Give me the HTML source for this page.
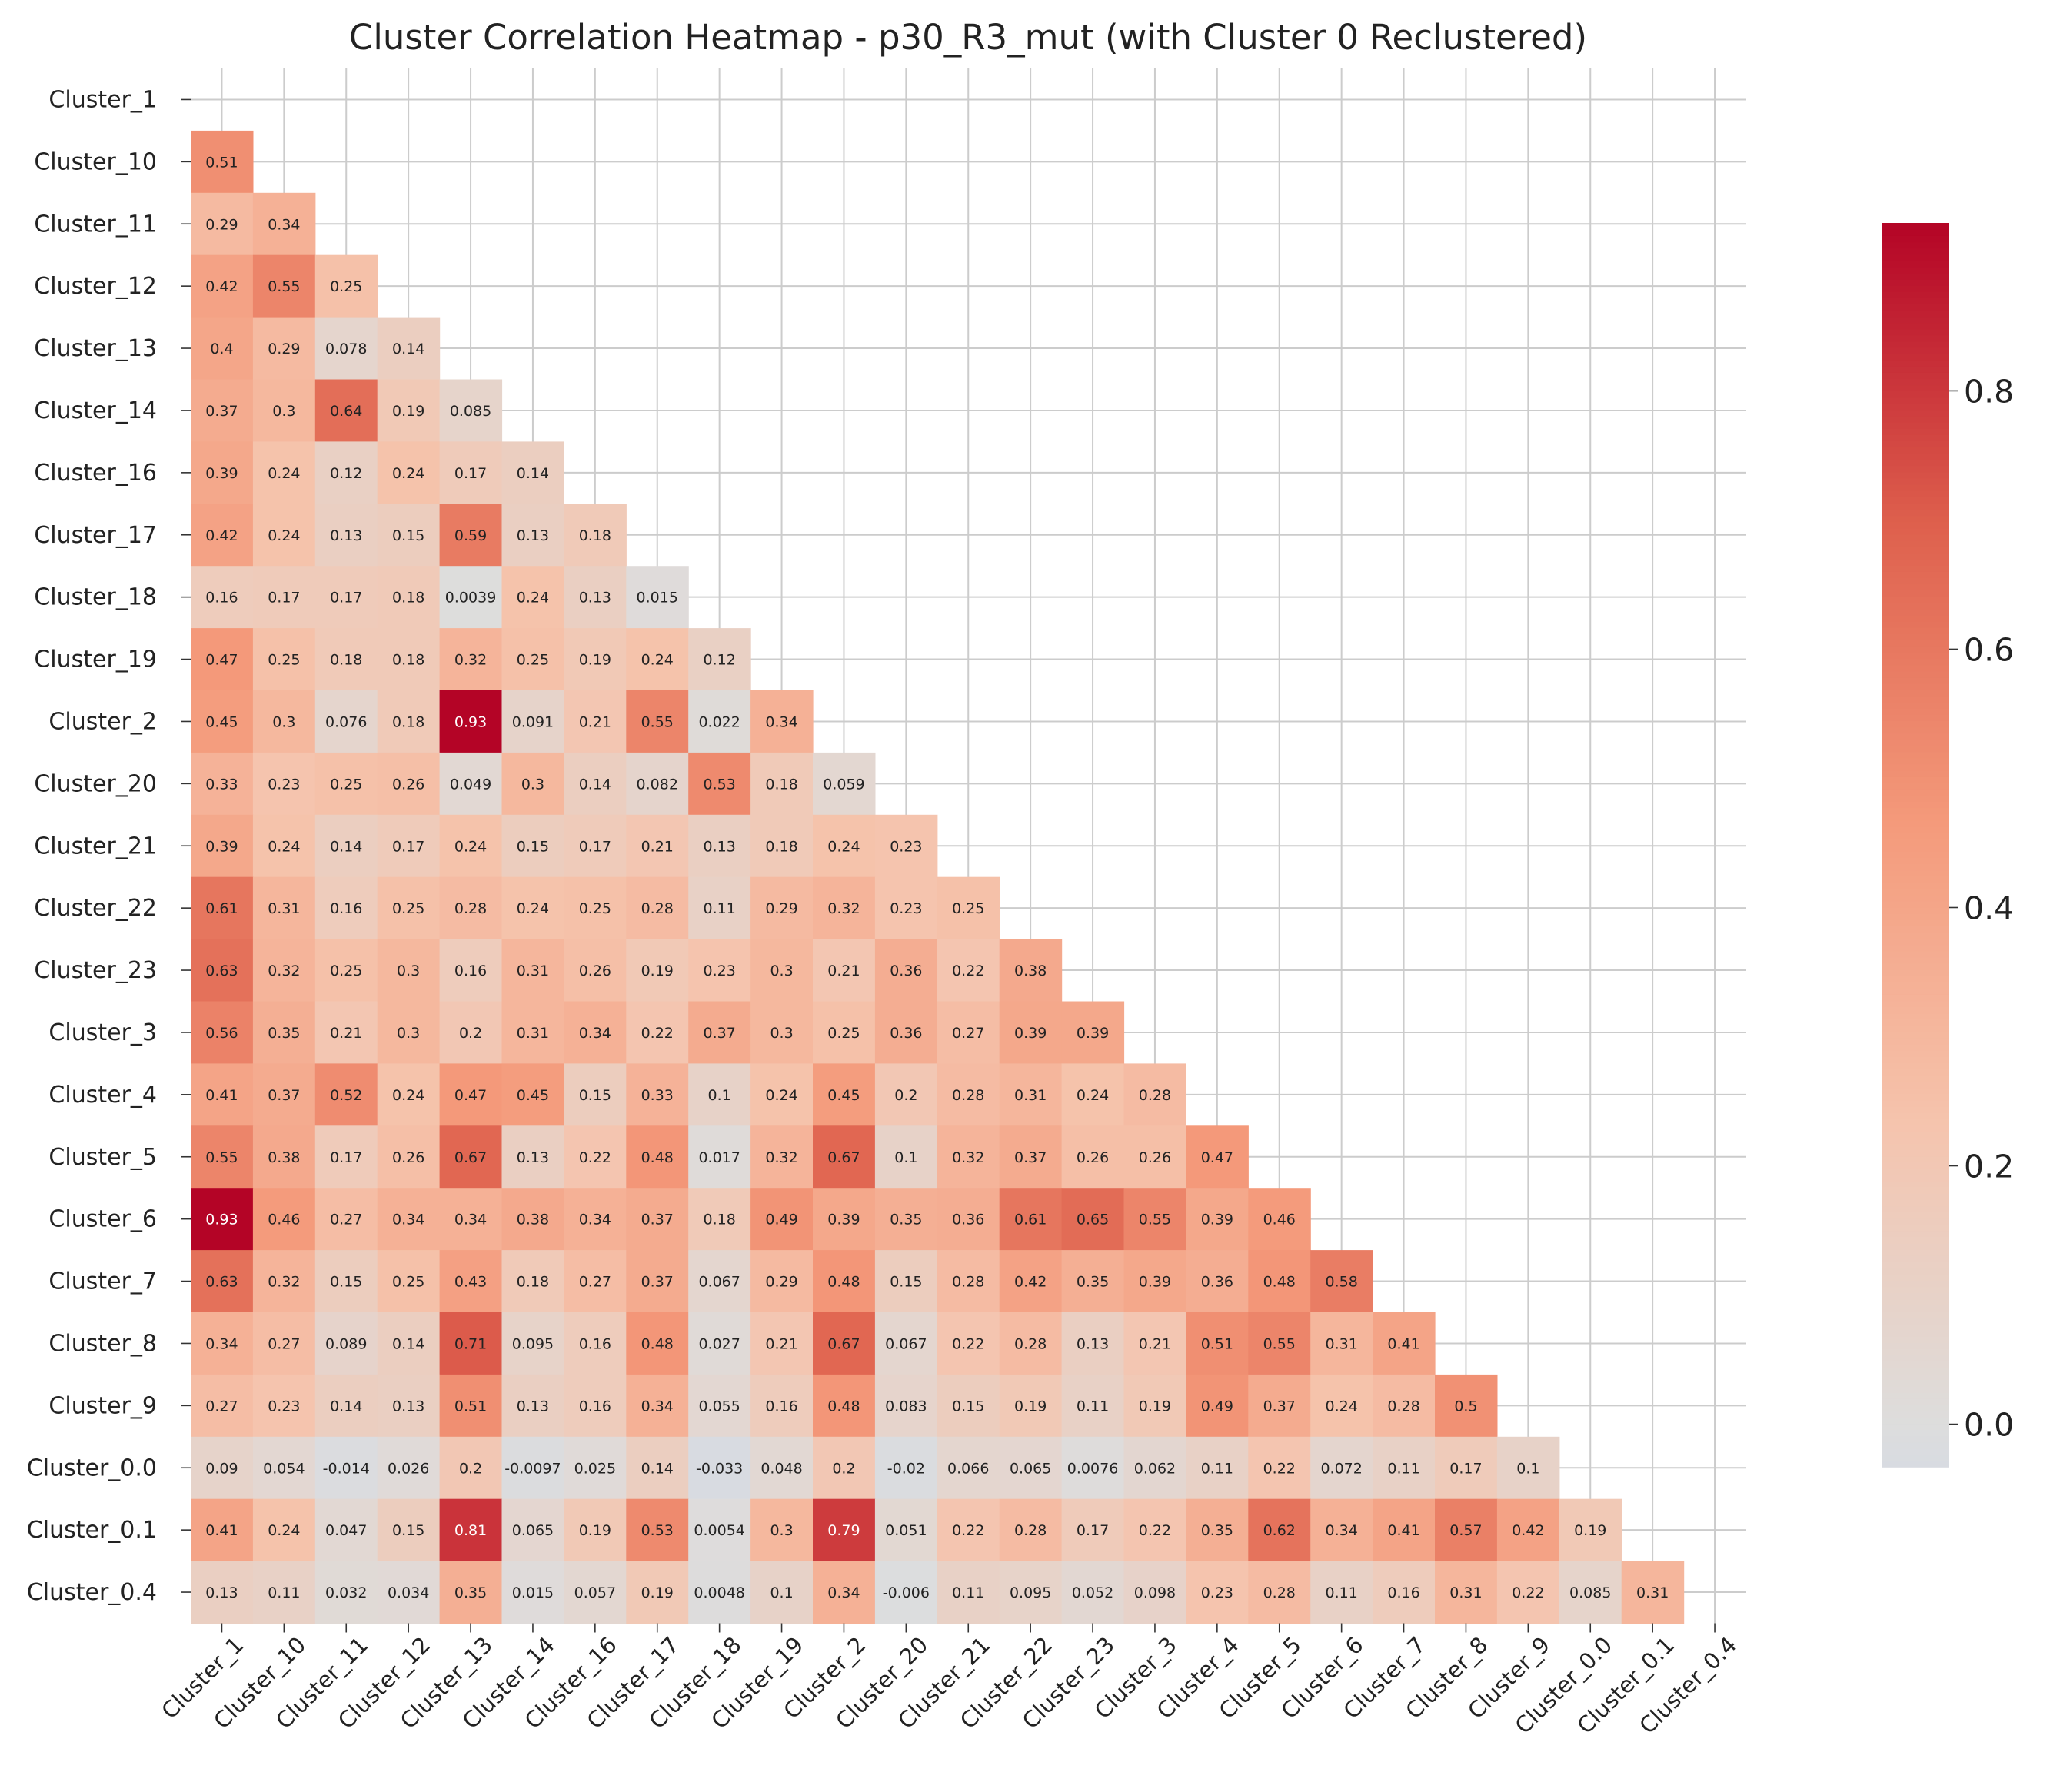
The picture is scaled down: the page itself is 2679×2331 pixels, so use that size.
<!DOCTYPE html>
<html><head><meta charset="utf-8"><style>
body{margin:0;background:#fff}
svg{display:block;font-family:"DejaVu Sans","Liberation Sans",sans-serif}
</style></head><body>
<svg id="chart" width="2679" height="2331" viewBox="0 0 2679 2331">
<text x="1259" y="64" text-anchor="middle" font-size="45" fill="#222">Cluster Correlation Heatmap - p30_R3_mut (with Cluster 0 Reclustered)</text>
<g id="grid"></g><g id="cells"></g><g id="labels"></g><g id="cbar"></g>
</svg>
<script>
const categories=["Cluster_1","Cluster_10","Cluster_11","Cluster_12","Cluster_13","Cluster_14","Cluster_16","Cluster_17","Cluster_18","Cluster_19","Cluster_2","Cluster_20","Cluster_21","Cluster_22","Cluster_23","Cluster_3","Cluster_4","Cluster_5","Cluster_6","Cluster_7","Cluster_8","Cluster_9","Cluster_0.0","Cluster_0.1","Cluster_0.4"];
const rowLabels=["0.51","0.29 0.34","0.42 0.55 0.25","0.4 0.29 0.078 0.14","0.37 0.3 0.64 0.19 0.085","0.39 0.24 0.12 0.24 0.17 0.14","0.42 0.24 0.13 0.15 0.59 0.13 0.18","0.16 0.17 0.17 0.18 0.0039 0.24 0.13 0.015","0.47 0.25 0.18 0.18 0.32 0.25 0.19 0.24 0.12","0.45 0.3 0.076 0.18 0.93 0.091 0.21 0.55 0.022 0.34","0.33 0.23 0.25 0.26 0.049 0.3 0.14 0.082 0.53 0.18 0.059","0.39 0.24 0.14 0.17 0.24 0.15 0.17 0.21 0.13 0.18 0.24 0.23","0.61 0.31 0.16 0.25 0.28 0.24 0.25 0.28 0.11 0.29 0.32 0.23 0.25","0.63 0.32 0.25 0.3 0.16 0.31 0.26 0.19 0.23 0.3 0.21 0.36 0.22 0.38","0.56 0.35 0.21 0.3 0.2 0.31 0.34 0.22 0.37 0.3 0.25 0.36 0.27 0.39 0.39","0.41 0.37 0.52 0.24 0.47 0.45 0.15 0.33 0.1 0.24 0.45 0.2 0.28 0.31 0.24 0.28","0.55 0.38 0.17 0.26 0.67 0.13 0.22 0.48 0.017 0.32 0.67 0.1 0.32 0.37 0.26 0.26 0.47","0.93 0.46 0.27 0.34 0.34 0.38 0.34 0.37 0.18 0.49 0.39 0.35 0.36 0.61 0.65 0.55 0.39 0.46","0.63 0.32 0.15 0.25 0.43 0.18 0.27 0.37 0.067 0.29 0.48 0.15 0.28 0.42 0.35 0.39 0.36 0.48 0.58","0.34 0.27 0.089 0.14 0.71 0.095 0.16 0.48 0.027 0.21 0.67 0.067 0.22 0.28 0.13 0.21 0.51 0.55 0.31 0.41","0.27 0.23 0.14 0.13 0.51 0.13 0.16 0.34 0.055 0.16 0.48 0.083 0.15 0.19 0.11 0.19 0.49 0.37 0.24 0.28 0.5","0.09 0.054 -0.014 0.026 0.2 -0.0097 0.025 0.14 -0.033 0.048 0.2 -0.02 0.066 0.065 0.0076 0.062 0.11 0.22 0.072 0.11 0.17 0.1","0.41 0.24 0.047 0.15 0.81 0.065 0.19 0.53 0.0054 0.3 0.79 0.051 0.22 0.28 0.17 0.22 0.35 0.62 0.34 0.41 0.57 0.42 0.19","0.13 0.11 0.032 0.034 0.35 0.015 0.057 0.19 0.0048 0.1 0.34 -0.006 0.11 0.095 0.052 0.098 0.23 0.28 0.11 0.16 0.31 0.22 0.085 0.31"];
const cbarTicks=[0.0,0.2,0.4,0.6,0.8];
const vmin=-0.033, vmax=0.93;

const NS="http://www.w3.org/2000/svg";
const L=248,T=89,C=80.9,N=categories.length;
const xPos=i=>L+i*C, yPos=i=>T+i*C;
const stops=[[58,76,193],[98,130,234],[141,176,254],[184,208,249],[221,221,221],[245,196,173],[244,154,123],[222,96,77],[180,4,38]];
function cw(v){let t=0.5+v/(2*vmax);t=Math.max(0,Math.min(1,t));const p=t*8,i=Math.min(7,Math.floor(p)),f=p-i;const a=stops[i],b=stops[i+1];return a.map((c,k)=>Math.round(c+(b[k]-c)*f));}
function el(tag,attrs,parent){const e=document.createElementNS(NS,tag);for(const k in attrs)e.setAttribute(k,attrs[k]);parent.appendChild(e);return e;}
const grid=document.getElementById('grid'),cells=document.getElementById('cells'),labels=document.getElementById('labels'),cb=document.getElementById('cbar');
for(let i=0;i<N;i++){
  const gx=el('line',{x1:xPos(i)+C/2,x2:xPos(i)+C/2,y1:T,y2:T+N*C,stroke:'#cccccc','stroke-width':2},grid);
  
  
  const gy=el('line',{x1:L,x2:L+N*C,y1:yPos(i)+C/2,y2:yPos(i)+C/2,stroke:'#cccccc','stroke-width':2},grid);
  
  
}
rowLabels.forEach((row,ri)=>{
  const r=ri+1;
  row.split(' ').forEach((s,c)=>{
    const v=parseFloat(s),col=cw(v);
    const rc=el('rect',{x:xPos(c),y:yPos(r),width:C+0.6,height:C+0.6,fill:`rgb(${col})`},cells);
    
    
    const lum=(0.2126*col[0]+0.7152*col[1]+0.0722*col[2])/255;
    const tx=el('text',{x:xPos(c)+C/2,y:yPos(r)+C/2+7,'text-anchor':'middle','font-size':19,fill:lum<0.45?'#fff':'#222'},cells);
    tx.textContent=s;
    
    
  });
});
categories.forEach((c,i)=>{
  const cy=yPos(i)+C/2, cx=xPos(i)+C/2;
  el('line',{x1:L-12,x2:L,y1:cy,y2:cy,stroke:'#333','stroke-width':1.6},labels);
  const t=el('text',{x:L-44,y:cy+10,'text-anchor':'end','font-size':30,fill:'#222'},labels);
  t.textContent=c;
  
  
  el('line',{x1:cx,x2:cx,y1:T+N*C,y2:T+N*C+12,stroke:'#333','stroke-width':1.6},labels);
  const u=el('text',{x:cx+30,y:T+N*C+30,'text-anchor':'end','font-size':29,fill:'#222',transform:`rotate(-45 ${cx+30} ${T+N*C+30})`},labels);
  u.textContent=c;
  
  
});
const cbX=2448,cbW=86,cbT=290,cbB=1908,steps=200;
const cy2=v=>cbB-(v-vmin)/(vmax-vmin)*(cbB-cbT);
for(let k=0;k<steps;k++){
  const v0=vmin+(vmax-vmin)*k/steps,v1=vmin+(vmax-vmin)*(k+1)/steps;
  const r=el('rect',{x:cbX,y:cy2(v1),width:cbW,height:cy2(v0)-cy2(v1)+0.8,fill:`rgb(${cw((v0+v1)/2)})`},cb);
  
  
}
cbarTicks.forEach(v=>{
  const y=cy2(v);
  el('line',{x1:cbX+cbW,x2:cbX+cbW+12,y1:y,y2:y,stroke:'#333','stroke-width':1.6},cb);
  const t=el('text',{x:cbX+cbW+20,y:y+15,'font-size':41,fill:'#222'},cb);
  t.textContent=v.toFixed(1);
  
  
});
</script>
</body></html>
